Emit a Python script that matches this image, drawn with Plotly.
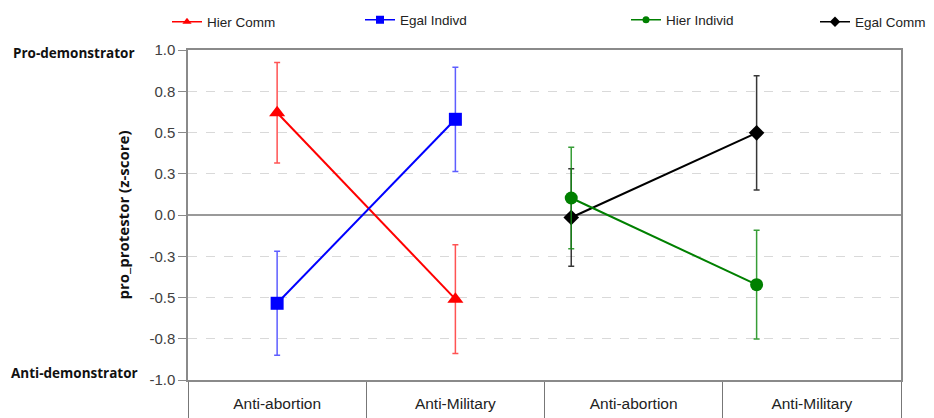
import plotly.graph_objects as go

# ---- data ----
categories = ["Anti-abortion", "Anti-Military", "Anti-abortion", "Anti-Military"]
category_pos = [0.5, 1.5, 2.5, 3.5]
category_bounds = [0, 1, 2, 3, 4]

x_left_group = [0.5, 1.5]
x_right_group = [2.15, 3.19]

hier_comm = [0.62, -0.51]
hier_comm_err = [0.305, 0.33]
egal_indivd = [-0.535, 0.58]
egal_indivd_err = [0.315, 0.316]
hier_individ = [0.103, -0.422]
hier_individ_err = [0.307, 0.33]
egal_comm = [-0.015, 0.498]
egal_comm_err = [0.295, 0.346]

y_tickvals = [-1.0, -0.75, -0.5, -0.25, 0.0, 0.25, 0.5, 0.75, 1.0]
y_ticktext = ["-1.0", "-0.8", "-0.5", "-0.3", "0.0", "0.3", "0.5", "0.8", "1.0"]

series = [
    # name, x, y, err, color, errcolor, symbol, size, legend-size, legend id, legend x(px), legend y(px)
    ("Hier Comm", x_left_group, hier_comm, hier_comm_err, "#ff0000", "rgba(255,40,40,0.8)", "triangle-up", 14, 8, "legend", 159, 14),
    ("Egal Indivd", x_left_group, egal_indivd, egal_indivd_err, "#0000ff", "rgba(40,40,255,0.75)", "square", 13, 8, "legend2", 352, 12),
    ("Egal Comm", x_right_group, egal_comm, egal_comm_err, "#000000", "rgba(20,20,20,0.85)", "diamond", 12, 8, "legend4", 807, 14),
    ("Hier Individ", x_right_group, hier_individ, hier_individ_err, "#008000", "rgba(20,140,20,0.85)", "circle", 13, 7, "legend3", 618, 12),
]

# the page adds an 8px body margin, so the figure is 8px smaller than the window
W, H = 926, 410
fig = go.Figure()

for name, xs, ys, es, col, ecol, sym, sz, lsz, lg, lx, ly in series:
    fig.add_trace(go.Scatter(
        x=xs, y=ys, mode="lines+markers", name=name, showlegend=False,
        line=dict(color=col, width=2),
        marker=dict(symbol=sym, size=sz, color=col),
        error_y=dict(type="data", array=es, visible=True, color=ecol, thickness=1.5, width=3),
    ))
    # legend entry (small marker like the original)
    fig.add_trace(go.Scatter(
        x=[None], y=[None], mode="lines+markers", name=name, legend=lg,
        line=dict(color=col, width=1.5),
        marker=dict(symbol=sym, size=lsz, color=col),
    ))

legend_font = dict(family="Liberation Sans, Arial, sans-serif", size=13.5, color="#222222")
legend_layouts = {}
for name, xs, ys, es, col, ecol, sym, sz, lsz, lg, lx, ly in series:
    legend_layouts[lg] = dict(
        xref="container", yref="container",
        x=lx / W, y=1 - ly / H, xanchor="left", yanchor="middle",
        bgcolor="rgba(0,0,0,0)", borderwidth=0, font=legend_font,
        itemsizing="trace", orientation="h",
    )

axis_line_color = "#8a8a8a"

fig.update_layout(
    width=W, height=H,
    margin=dict(l=180, r=33, t=42, b=38, autoexpand=False),
    paper_bgcolor="white", plot_bgcolor="white",
    **legend_layouts,
    xaxis=dict(
        range=[0, 4], showgrid=False, zeroline=False, automargin=False,
        showline=True, mirror=True, linecolor=axis_line_color, linewidth=1.5,
        tickmode="array", tickvals=category_pos, ticktext=categories,
        ticks="outside", ticklen=9, tickcolor="rgba(0,0,0,0)",
        tickfont=dict(family="Liberation Sans, Arial, sans-serif", size=15.5, color="#222222"),
        minor=dict(tickmode="array", tickvals=category_bounds, ticks="outside",
                   ticklen=40, tickcolor="#777777", tickwidth=1),
        fixedrange=True,
    ),
    yaxis=dict(
        range=[-1, 1], tickmode="array", tickvals=y_tickvals, ticktext=y_ticktext,
        automargin=False,
        showgrid=True, gridcolor="#d9d9d9", griddash="dash", gridwidth=1,
        zeroline=True, zerolinecolor="#9a9a9a", zerolinewidth=1.5,
        showline=True, mirror=True, linecolor=axis_line_color, linewidth=1.5,
        ticks="outside", ticklen=8, tickcolor=axis_line_color,
        tickfont=dict(family="Liberation Sans, Arial, sans-serif", size=15, color="#404040"),
        title=dict(text="<b>pro_protestor (z-score)</b>", standoff=16,
                   font=dict(family="Open Sans, sans-serif", size=15, color="#111111")),
        fixedrange=True,
    ),
    annotations=[
        dict(text="<b>Pro-demonstrator</b>", xref="paper", yref="y", x=(11 - 188) / 713, y=1.0,
             xanchor="left", yanchor="middle", yshift=-3, showarrow=False,
             font=dict(family="Open Sans, sans-serif", size=13.5, color="#111111")),
        dict(text="<b>Anti-demonstrator</b>", xref="paper", yref="y", x=(9 - 188) / 713, y=-1.0,
             xanchor="left", yanchor="middle", yshift=7, showarrow=False,
             font=dict(family="Open Sans, sans-serif", size=13.5, color="#111111")),
    ],
)

fig.write_html("out.html")
